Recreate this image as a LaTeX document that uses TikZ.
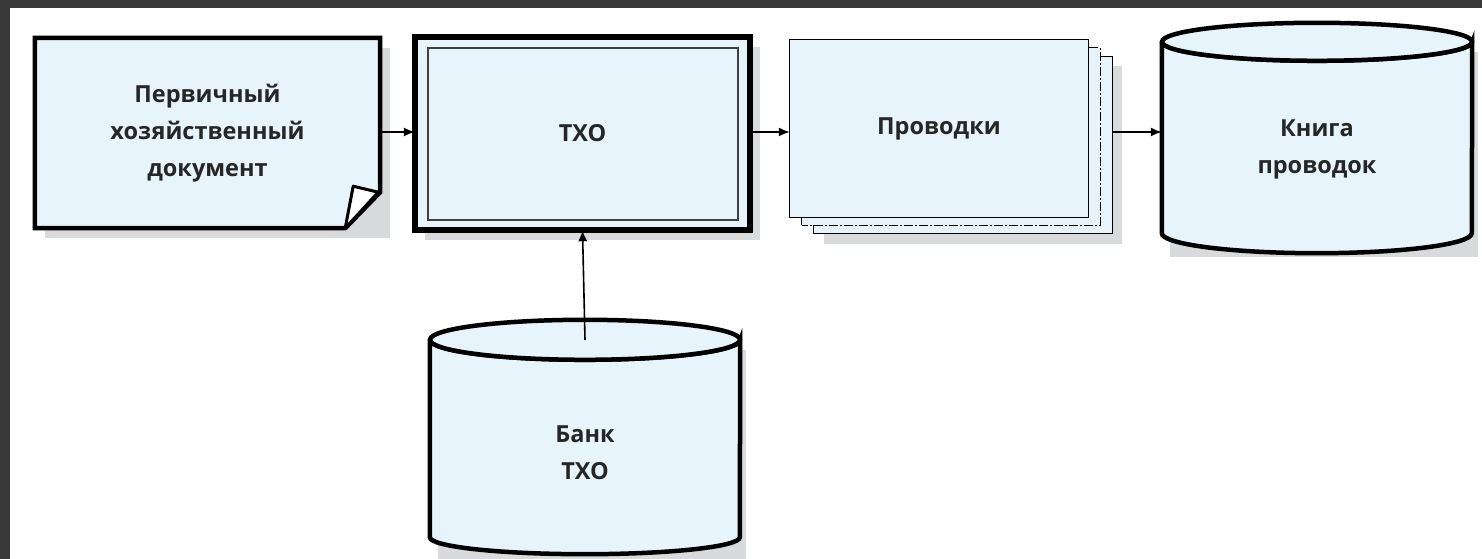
\documentclass[tikz,border=0pt]{standalone}
\usepackage{fontspec}
\setmainfont{Open Sans}
\usetikzlibrary{calc}
\usetikzlibrary{arrows.meta}

\definecolor{boxblue}{HTML}{E8F4FC}
\definecolor{shadowgray}{HTML}{D9DADC}
\definecolor{framegray}{HTML}{383838}

\tikzset{
    label text/.style={font=\bfseries\fontsize{23.5}{37}\selectfont, align=center, text=black!85},
    flow/.style={line width=1.6pt, -{Latex[length=11pt, width=9pt]}},
    body/.style={line width=4.5pt, fill=boxblue, line join=miter},
}

\begin{document}
\begin{tikzpicture}[x=1pt, y=1pt]
        \useasboundingbox (0, 0) rectangle (1482, 559);
        \fill[framegray] (0, 0) rectangle (10, 559);
        \fill[framegray] (0, 551) rectangle (1482, 559);

        % invisible frames that carry the names and texts
        \node[label text, minimum width=345, minimum height=190] (doc) at (207.5, 426) {Первичный\\хозяйственный\\документ};
        \node[label text, minimum width=335, minimum height=193] (txo) at (582.5, 425.5) {ТХО};
        \node[label text, minimum width=298, minimum height=177] (post) at (939, 430.5) {Проводки};
        \node[minimum width=298, minimum height=177, inner sep=0] (postback) at (963, 414) {};
        \node[minimum width=310, minimum height=191, inner sep=0] (book) at (1317, 421.5) {};
        \node[minimum width=310, minimum height=197, inner sep=0] (bank) at (585, 120.5) {};

        % shadows
        \fill[shadowgray] ($(doc.south west)+(10,-10)$) rectangle ($(doc.north east)+(10,-10)$);
        \fill[shadowgray] ($(txo.south west)+(10,-10)$) rectangle ($(txo.north east)+(10,-10)$);
        \fill[shadowgray] ($(postback.south west)+(10,-10)$) rectangle ($(postback.north east)+(10,-10)$);
        \fill[shadowgray] ($(book.south west)+(8,-24)$) rectangle ($(book.north east)+(6,-10)$);
        \fill[shadowgray] ($(bank.south west)+(8,-22)$) rectangle ($(bank.north east)+(6,-10)$);

        % document with folded corner
        \draw[body] (doc.north west) -- (doc.north east) -- ($(doc.south east)+(0, 36)$)
            -- ($(doc.south east)+(-35, 0)$) -- (doc.south west) -- cycle;
        \draw[line width=3pt, fill=white, line join=round] ($(doc.south east)+(-35, 0)$) -- ($(doc.south east)+(-27, 42)$)
            -- ($(doc.south east)+(-2, 36)$) -- cycle;
        \node[label text] at (doc.center) {Первичный\\хозяйственный\\документ};

        % double framed box
        \draw[line width=6pt, fill=boxblue] (txo.south west) rectangle (txo.north east);
        \draw[line width=1.5pt, draw=black!75] ($(txo.south west)+(13, 10)$) rectangle ($(txo.north east)+(-12, -11)$);
        \node[label text] at (txo.center) {ТХО};

        % stacked sheets
        \draw[line width=1.3pt, fill=boxblue] ($(post.south west)+(24, -16)$) rectangle ($(post.north east)+(24, -17)$);
        \draw[line width=1.3pt, fill=boxblue, dash pattern=on 9pt off 2pt on 2pt off 2pt] ($(post.south west)+(12, -8)$) rectangle ($(post.north east)+(12, -8)$);
        \draw[line width=1.3pt, fill=boxblue] (post.south west) rectangle (post.north east);
        \node[label text] at (post.center) {Проводки};

        % storage cylinders
        \draw[body] (book.north west) -- (book.south west) arc[start angle=180, end angle=360, x radius=155, y radius=20]
            -- (book.north east) arc[start angle=0, end angle=-180, x radius=155, y radius=19];
        \draw[body] (book.north) ellipse[x radius=155, y radius=19];
        \node[label text] at ($(book.center)+(0, -12)$) {Книга\\проводок};

        \draw[body] (bank.north west) -- (bank.south west) arc[start angle=180, end angle=360, x radius=155, y radius=17]
            -- (bank.north east) arc[start angle=0, end angle=-180, x radius=155, y radius=20];
        \draw[body] (bank.north) ellipse[x radius=155, y radius=20];
        \node[label text] at ($(bank.center)+(0, -14)$) {Банк\\ТХО};

        % connectors
        \draw[flow] (doc.east |- 0, 427) -- (txo.west |- 0, 427);
        \draw[flow] (txo.east |- 0, 427) -- (post.west |- 0, 427);
        \draw[flow] (postback.east |- 0, 427) -- (book.west |- 0, 427);
        \draw[flow] (bank.north) -- (txo.south);
    \end{tikzpicture}
\end{document}
